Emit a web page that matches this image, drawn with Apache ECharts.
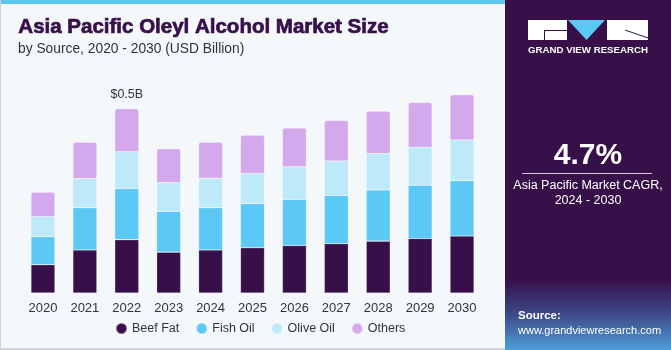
<!DOCTYPE html>
<html>
<head>
<meta charset="utf-8">
<script src="https://cdn.jsdelivr.net/npm/echarts@6/dist/echarts.min.js"></script>
<style>
  html, body { margin: 0; padding: 0; background: #f4f8fb; }
  #chart { width: 671px; height: 350px; }
</style>
</head>
<body>
<div id="chart"></div>
<script>
// values in USD Billion
const years = ['2020', '2021', '2022', '2023', '2024', '2025', '2026', '2027', '2028', '2029', '2030'];
const beefFat = [0.077, 0.117, 0.145, 0.111, 0.117, 0.123, 0.129, 0.134, 0.141, 0.148, 0.155];
const fishOil = [0.076, 0.115, 0.139, 0.111, 0.115, 0.120, 0.125, 0.131, 0.139, 0.145, 0.150];
const oliveOil = [0.055, 0.079, 0.100, 0.078, 0.080, 0.082, 0.089, 0.094, 0.099, 0.103, 0.111];
const others = [0.066, 0.099, 0.117, 0.092, 0.098, 0.104, 0.106, 0.110, 0.115, 0.122, 0.123];
const highlight = { year: '2022', text: '$0.5B' };

const colors = {
  beef: '#37104a',
  fish: '#5bc8f5',
  olive: '#bde9f9',
  others: '#d4a8ec',
  panel: '#37104a',
  bg: '#f4f8fb'
};

const chart = echarts.init(document.getElementById('chart'));

function barSerie(name, data, color, top) {
  return {
    name: name,
    type: 'bar',
    stack: 'total',
    barWidth: 24,
    data: data,
    itemStyle: {
      color: color,
      borderColor: 'rgba(255,255,255,0.35)',
      borderWidth: 0.6,
      borderRadius: top ? [2, 2, 0, 0] : 0
    },
    emphasis: { disabled: true }
  };
}

const othersSerie = barSerie('Others', others, colors.others, true);
othersSerie.label = {
  show: true,
  position: 'top',
  distance: 8,
  color: '#333',
  fontSize: 12.5,
  fontFamily: 'Liberation Sans',
  formatter: function (p) {
    return p.name === highlight.year ? highlight.text : '';
  }
};

chart.setOption({
  backgroundColor: colors.bg,
  animation: false,
  grid: { left: 22, right: 188, top: 87, bottom: 57 },
  xAxis: {
    type: 'category',
    data: years,
    axisLine: { show: false },
    axisTick: { show: false },
    axisLabel: { color: '#333', fontSize: 13, margin: 9, fontFamily: 'Liberation Sans' }
  },
  yAxis: {
    type: 'value',
    min: 0,
    max: 0.56,
    show: false,
    splitLine: { show: false }
  },
  legend: {
    bottom: 10,
    left: 110,
    icon: 'circle',
    itemWidth: 11,
    itemHeight: 11,
    itemGap: 16,
    textStyle: { color: '#333', fontSize: 12.5, fontFamily: 'Liberation Sans' },
    data: ['Beef Fat', 'Fish Oil', 'Olive Oil', 'Others']
  },
  series: [
    barSerie('Beef Fat', beefFat, colors.beef, false),
    barSerie('Fish Oil', fishOil, colors.fish, false),
    barSerie('Olive Oil', oliveOil, colors.olive, false),
    othersSerie
  ],
  graphic: [
    // top strip and frame
    { type: 'rect', shape: { x: 0, y: 0, width: 505, height: 4 }, style: { fill: '#5bc8f0' }, z: 10 },
    { type: 'rect', shape: { x: 0, y: 0, width: 1, height: 350 }, style: { fill: '#d0d4d8' }, z: 10 },
    { type: 'rect', shape: { x: 0, y: 348, width: 505, height: 2 }, style: { fill: '#d0d4d8' }, z: 10 },
    // titles
    {
      type: 'text', left: 18, top: 16, z: 10,
      style: {
        text: 'Asia Pacific Oleyl Alcohol Market Size', fill: '#37104a', fontSize: 20.5, fontWeight: 900,
        fontFamily: 'Liberation Sans', stroke: '#37104a', lineWidth: 0.7
      }
    },
    {
      type: 'text', left: 18, top: 42, z: 10,
      style: { text: 'by Source, 2020 - 2030 (USD Billion)', fill: '#333', fontSize: 13.8, fontFamily: 'Liberation Sans' }
    },
    // right panel
    { type: 'rect', shape: { x: 505, y: 0, width: 166, height: 350 }, style: { fill: colors.panel }, z: 5 },
    {
      type: 'rect', shape: { x: 505, y: 280, width: 166, height: 70 }, z: 6,
      style: {
        fill: new echarts.graphic.LinearGradient(0, 0, 0, 1, [
          { offset: 0, color: '#37104a' },
          { offset: 0.5, color: '#3d4a8a' },
          { offset: 1, color: '#4f9fd8' }
        ])
      }
    },
    // logo
    { type: 'rect', shape: { x: 528, y: 20, width: 39, height: 20 }, style: { fill: '#fff' }, z: 10 },
    { type: 'rect', shape: { x: 544, y: 30, width: 23, height: 1 }, style: { fill: colors.panel }, z: 11 },
    { type: 'rect', shape: { x: 544, y: 30, width: 1, height: 10 }, style: { fill: colors.panel }, z: 11 },
    { type: 'polygon', shape: { points: [[568, 20], [605, 20], [586.5, 40]] }, style: { fill: '#5bc8f5' }, z: 10 },
    { type: 'rect', shape: { x: 607, y: 20, width: 41, height: 20 }, style: { fill: '#fff' }, z: 10 },
    { type: 'line', shape: { x1: 625, y1: 30, x2: 648, y2: 38 }, style: { stroke: colors.panel, lineWidth: 1 }, z: 11 },
    {
      type: 'text', left: 528, top: 45, z: 10,
      style: { text: 'GRAND VIEW RESEARCH', fill: '#fff', fontSize: 9.7, fontWeight: 'bold', fontFamily: 'Liberation Sans' }
    },
    // CAGR
    {
      type: 'text', z: 10, x: 588, y: 156,
      style: { text: '4.7%', fill: '#fff', fontSize: 30, fontWeight: 'bold', fontFamily: 'Liberation Sans', align: 'center', verticalAlign: 'middle' }
    },
    { type: 'rect', shape: { x: 522, y: 173, width: 130, height: 1 }, style: { fill: '#d8cce0' }, z: 10 },
    {
      type: 'text', z: 10, x: 588, y: 186,
      style: { text: 'Asia Pacific Market CAGR,', fill: '#fff', fontSize: 12.5, fontFamily: 'Liberation Sans', align: 'center', verticalAlign: 'middle' }
    },
    {
      type: 'text', z: 10, x: 588, y: 201,
      style: { text: '2024 - 2030', fill: '#fff', fontSize: 12.5, fontFamily: 'Liberation Sans', align: 'center', verticalAlign: 'middle' }
    },
    // source
    {
      type: 'text', z: 10, left: 518, top: 310,
      style: { text: 'Source:', fill: '#fff', fontSize: 11.5, fontWeight: 'bold', fontFamily: 'Liberation Sans' }
    },
    {
      type: 'text', z: 10, left: 518, top: 325,
      style: { text: 'www.grandviewresearch.com', fill: '#fff', fontSize: 11, fontFamily: 'Liberation Sans' }
    }
  ]
});
</script>
</body>
</html>
